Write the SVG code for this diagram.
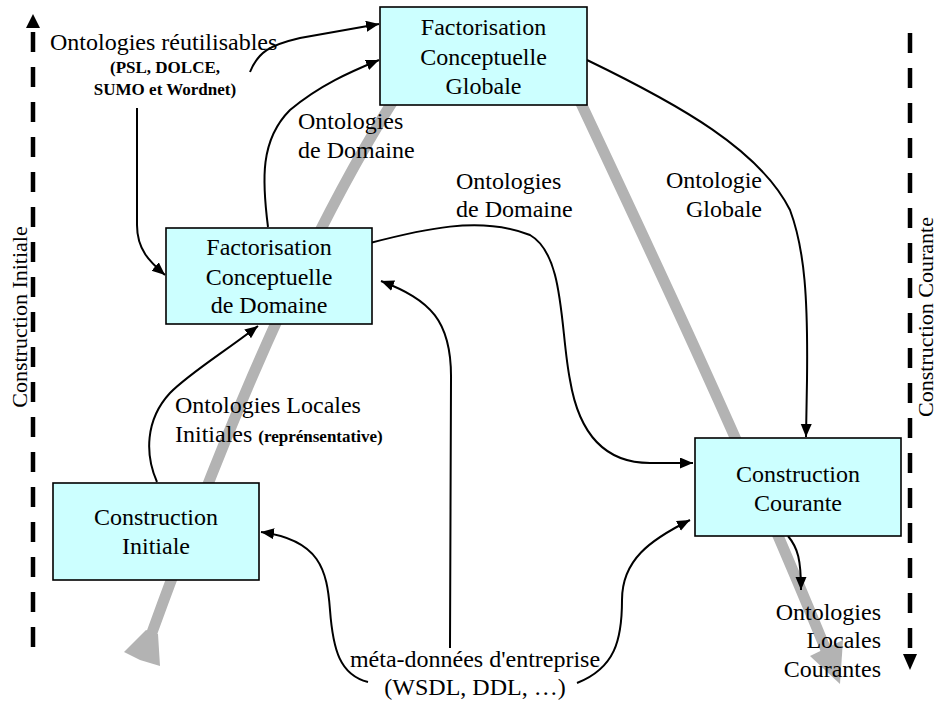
<svg xmlns="http://www.w3.org/2000/svg" width="940" height="704" viewBox="0 0 940 704">
<defs>
<marker id="ah" markerUnits="userSpaceOnUse" markerWidth="14" markerHeight="12" refX="13" refY="5.5" orient="auto">
<path d="M0,0 L13,5.5 L0,11 Z" fill="#000"/>
</marker>
<style>
.box{fill:#CCFFFF;stroke:#000;stroke-width:1.6}
.t{font-family:"Liberation Serif","Times New Roman",serif;font-size:24px;fill:#000}
.c{text-anchor:middle}
.e{text-anchor:end}
.s{font-size:17px;font-weight:bold}
.r{font-family:"Liberation Serif","Times New Roman",serif;font-size:22px;fill:#000;text-anchor:middle}
.con{fill:none;stroke:#000;stroke-width:2;marker-end:url(#ah)}
.gray{fill:none;stroke:#B3B3B3;stroke-width:11}
.dash{stroke:#000;stroke-width:4.5;stroke-dasharray:20 15}
</style>
</defs>
<rect width="940" height="704" fill="#fff"/>

<g id="flow-backbone">
<path class="gray" d="M150,638 C200,500 290,260 400,90"/>
<polygon points="146,630 124,652 140,660 160,666 158,634" fill="#B3B3B3"/>
<path class="gray" d="M570,80 C650,250 740,440 826,650"/>
<polygon points="810,656 843,640 840,684" fill="#B3B3B3"/>
</g>

<g id="axis-initiale">
<line class="dash" x1="33" y1="32" x2="33" y2="658"/>
<polygon points="26,28 40,28 33,14" fill="#000"/>
<text class="r" transform="translate(27,317) rotate(-90)">Construction Initiale</text>
</g>

<g id="axis-courante">
<line class="dash" x1="910" y1="33" x2="910" y2="656"/>
<polygon points="903,654 917,654 910,670" fill="#000"/>
<text class="r" transform="translate(933,317) rotate(-90)">Construction Courante</text>
</g>

<g id="connectors">
<path class="con" d="M250,72 C258,52 270,45 300,38 L379,24"/>
<path class="con" d="M268,227 C262,180 260,140 290,110 C320,85 350,72 379,60"/>
<path class="con" d="M137,108 L137,225 C137,250 150,262 165,275"/>
<path class="con" d="M370,243 C420,230 480,215 530,235 C565,255 560,330 570,380 C580,440 610,463 650,463 L693,463"/>
<path class="con" d="M587,60 C680,105 760,150 790,210 C805,250 808,300 807,380 L806,437"/>
<path class="con" d="M157,482 C145,455 145,420 170,393 C190,373 220,355 258,326"/>
<path class="con" d="M368,682 C340,675 333,650 330,610 C327,570 320,540 261,532"/>
<path class="con" d="M577,683 C615,668 622,640 622,600 C622,560 650,540 690,520"/>
<path class="con" d="M450,648 L451,380 C452,320 430,300 381,281"/>
<path class="con" d="M788,536 C798,548 801,560 801,590"/>
</g>

<g id="node-fcg">
<rect class="box" x="380" y="7" width="207" height="98"/>
<text class="t c" x="483.5" y="35">Factorisation</text>
<text class="t c" x="483.5" y="65">Conceptuelle</text>
<text class="t c" x="483.5" y="94">Globale</text>
</g>

<g id="node-fcd">
<rect class="box" x="166" y="228" width="206" height="96"/>
<text class="t c" x="269" y="255">Factorisation</text>
<text class="t c" x="269" y="285">Conceptuelle</text>
<text class="t c" x="269" y="313">de Domaine</text>
</g>

<g id="node-ci">
<rect class="box" x="53" y="483" width="206" height="97"/>
<text class="t c" x="156" y="525">Construction</text>
<text class="t c" x="156" y="554">Initiale</text>
</g>

<g id="node-cc">
<rect class="box" x="695" y="438" width="206" height="98"/>
<text class="t c" x="798" y="482">Construction</text>
<text class="t c" x="798" y="511">Courante</text>
</g>

<g id="labels">
<text class="t" x="50" y="50">Ontologies réutilisables</text>
<text class="t c s" x="165" y="73">(PSL, DOLCE,</text>
<text class="t c s" x="165" y="95">SUMO et Wordnet)</text>
<text class="t" x="298" y="129">Ontologies</text>
<text class="t" x="298" y="158">de Domaine</text>
<text class="t" x="456" y="189">Ontologies</text>
<text class="t" x="456" y="217">de Domaine</text>
<text class="t e" x="762" y="188">Ontologie</text>
<text class="t e" x="762" y="217">Globale</text>
<text class="t" x="175" y="413">Ontologies Locales</text>
<text class="t" x="175" y="442">Initiales <tspan class="s">(reprénsentative)</tspan></text>
<text class="t c" x="475" y="667">méta-données d'entreprise</text>
<text class="t c" x="475" y="695">(WSDL, DDL, …)</text>
<text class="t e" x="881" y="620">Ontologies</text>
<text class="t e" x="881" y="648">Locales</text>
<text class="t e" x="881" y="677">Courantes</text>
</g>
</svg>
